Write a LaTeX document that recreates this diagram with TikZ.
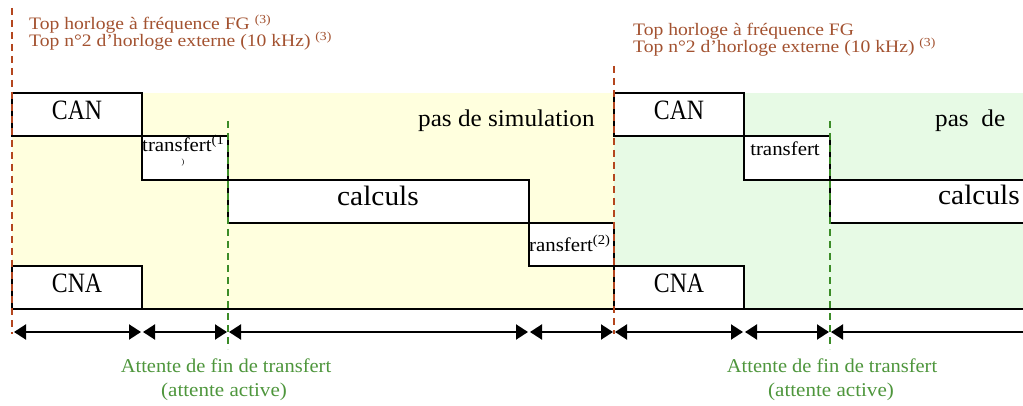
\documentclass[tikz,border=0pt]{standalone}
\usepackage{fontspec}
\setmainfont{Liberation Serif}
\usepackage{graphicx}
\usetikzlibrary{arrows.meta}
\definecolor{bandY}{RGB}{255,255,222}
\definecolor{bandG}{RGB}{231,250,229}
\definecolor{topclr}{RGB}{163,82,48}
\definecolor{topdash}{RGB}{180,70,30}
\definecolor{waitclr}{RGB}{78,150,60}
\definecolor{waitdash}{RGB}{60,140,40}
\newcommand{\hs}[2]{\scalebox{#1}[1]{#2}}
\begin{document}
\begin{tikzpicture}[x=1pt,y=-1pt,
  phase/.style={draw=black, fill=white, line width=1.6pt, inner sep=0pt, outer sep=0pt, anchor=north west},
  lbl/.style={inner sep=0pt, anchor=base},
  toptxt/.style={inner sep=0pt, anchor=base west, text=topclr, font=\fontsize{17.5}{20}\selectfont},
  waittxt/.style={inner sep=0pt, anchor=base, text=waitclr, font=\fontsize{19.5}{22}\selectfont},
  bigtxt/.style={lbl, font=\fontsize{28}{30}\selectfont},
  midtxt/.style={lbl, font=\fontsize{24}{26}\selectfont},
  smalltxt/.style={lbl, font=\fontsize{19.5}{22}\selectfont},
  clockline/.style={draw=topdash, line width=1.6pt, dash pattern=on 7pt off 5pt},
  waitline/.style={draw=waitdash, line width=1.6pt, dash pattern=on 7pt off 5pt},
  span/.style={line width=2pt, shorten <=1pt, shorten >=1pt},
  tip/.tip={Triangle[length=12pt,width=15pt]},
]
\useasboundingbox (0,0) rectangle (1023,406);
\fill[white] (0,0) rectangle (1023,406);
\fill[bandY] (12,93) rectangle (614,309);
\fill[bandG] (614,93) rectangle (1023,309);

% phases
\node[phase, minimum width=130pt, minimum height=43pt] (can1) at (12,93) {};
\node[phase, minimum width=86pt, minimum height=44pt] (tr1) at (142,136) {};
\node[phase, minimum width=301pt, minimum height=43pt] (calc1) at (228,180) {};
\node[phase, minimum width=85pt, minimum height=43pt] (tr2) at (529,223) {};
\node[phase, minimum width=130pt, minimum height=43pt] (cna1) at (12,266) {};
\node[phase, minimum width=130pt, minimum height=43pt] (can2) at (614,93) {};
\node[phase, minimum width=86pt, minimum height=44pt] (tr3) at (744,136) {};
\node[phase, minimum width=230pt, minimum height=43pt] (calc2) at (830,180) {};
\node[phase, minimum width=130pt, minimum height=43pt] (cna2) at (614,266) {};

\coordinate (baseEnd) at (1030,309);
\draw[line width=1.6pt] (cna1.south west) -- (baseEnd);

% clock lines
\coordinate (clkAt) at (12,8);   \coordinate (clkAb) at (12,334);
\coordinate (clkBt) at (614,66); \coordinate (clkBb) at (614,334);
\draw[clockline] (clkAt) -- (clkAb);
\draw[clockline] (clkBt) -- (clkBb);

% waiting lines
\coordinate (wAt) at (228,121); \coordinate (wAb) at (228,349);
\coordinate (wBt) at (830,121); \coordinate (wBb) at (830,349);
\draw[waitline] (wAt) -- (wAb);
\draw[waitline] (wBt) -- (wBb);

% top texts
\node[toptxt] (topA1) at (29,30) {\hs{1.12}{Top horloge à fréquence FG \textsuperscript{(3)}}};
\node[toptxt] (topA2) at (29,47) {\hs{1.12}{Top n°2 d’horloge externe (10 kHz) \textsuperscript{(3)}}};
\node[toptxt] (topB1) at (633,36) {\hs{1.12}{Top horloge à fréquence FG}};
\node[toptxt] (topB2) at (633,53) {\hs{1.12}{Top n°2 d’horloge externe (10 kHz) \textsuperscript{(3)}}};

% labels
\node[bigtxt] (tcan1) at (77,120) {\hs{0.85}{CAN}};
\node[bigtxt] (tcna1) at (77,292) {\hs{0.85}{CNA}};
\node[bigtxt] (tcan2) at (679,120) {\hs{0.85}{CAN}};
\node[bigtxt] (tcna2) at (679,292) {\hs{0.85}{CNA}};
\node[bigtxt] (tcalc1) at (378,206) {\hs{1.05}{calculs}};
\node[bigtxt, anchor=base east] (tcalc2) at (1020,205) {\hs{1.05}{calculs}};
\node[midtxt, anchor=base west] (tpas1) at (418,127) {\hs{1.05}{pas de simulation}};
\node[midtxt, anchor=base west] (tpas2) at (935,127) {\hs{1.05}{pas\ \ de}};
\node[smalltxt, anchor=base west] (ttr1) at (142,152) {\hs{1.07}{transfert\textsuperscript{(1}}};
\node[lbl, font=\fontsize{8}{9}\selectfont] (ttr1b) at (183,165) {)};
\node[smalltxt, anchor=base west] (ttr2) at (529,252) {\hs{1.07}{ransfert\textsuperscript{(2)}}};
\node[smalltxt] (ttr3) at (785,156) {\hs{1.07}{transfert}};

% waiting texts
\node[waittxt] (wtA1) at (226,372) {\hs{1.05}{Attente de fin de transfert}};
\node[waittxt] (wtA2) at (224,396) {\hs{1.08}{(attente active)}};
\node[waittxt] (wtB1) at (832,372) {\hs{1.05}{Attente de fin de transfert}};
\node[waittxt] (wtB2) at (831,396) {\hs{1.08}{(attente active)}};

% duration arrows
\coordinate (a0) at (13,332);
\coordinate (a1) at (142,332);
\coordinate (a2) at (228,332);
\coordinate (a3) at (529,332);
\coordinate (a4) at (614,332);
\coordinate (a5) at (744,332);
\coordinate (a6) at (830,332);
\coordinate (a7) at (1030,332);
\foreach \p/\q in {a0/a1,a1/a2,a2/a3,a3/a4,a4/a5,a5/a6}
  \draw[span, tip-tip] (\p) -- (\q);
\draw[span, tip-] (a6) -- (a7);
\end{tikzpicture}
\end{document}
